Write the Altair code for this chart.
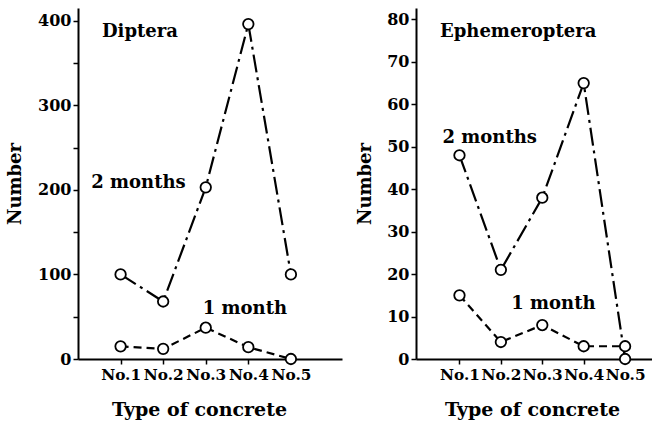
import altair as alt
import pandas as pd

# ---- data ----
types = ["No.1", "No.2", "No.3", "No.4", "No.5"]
positions = [1, 2, 3, 4, 5]
diptera_2m = [100, 68, 203, 396, 100]
diptera_1m = [15, 12, 37, 14, 0]
ephem_2m = [48, 21, 38, 65, 0]
ephem_1m = [15, 4, 8, 3, 3]
series_names = ["2 months", "1 month"]

FONT = "DejaVu Serif"


def panel(title, v2, v1, y_max, y_ticks, label_every, x_domain, width, height,
          lab2, lab1, title_pad, xtitle_x):
    df = pd.DataFrame({
        "type": types * 2,
        "pos": positions * 2,
        "value": v2 + v1,
        "series": [series_names[0]] * 5 + [series_names[1]] * 5,
    })
    x = alt.X("pos:Q",
              scale=alt.Scale(domain=x_domain, nice=False, zero=False),
              axis=alt.Axis(values=positions, labelExpr="'No.' + datum.value",
                            title="Type of concrete", titlePadding=18,
                            titleX=xtitle_x, titleAlign="center",
                            titleFontSize=19, labelFontSize=15.3,
                            labelOverlap=False, labelPadding=3))
    y = alt.Y("value:Q",
              scale=alt.Scale(domain=[0, y_max], nice=False),
              axis=alt.Axis(values=y_ticks,
                            labelExpr=f"datum.value % {label_every} == 0 ? datum.label : ''",
                            title="Number", titlePadding=title_pad, labelPadding=2))
    base = alt.Chart(df)
    line2 = base.transform_filter(alt.datum.series == series_names[0]).mark_line(
        color="black", strokeWidth=2.2, strokeDash=[18, 5, 3, 5]).encode(x=x, y=y)
    line1 = base.transform_filter(alt.datum.series == series_names[1]).mark_line(
        color="black", strokeWidth=2.2, strokeDash=[8, 5]).encode(x=x, y=y)
    pts = base.mark_point(shape="circle", filled=True, fill="white", stroke="black",
                          strokeWidth=1.8, size=110, opacity=1).encode(x=x, y=y)

    # series labels anchored to a data point of each series
    (i2, al2, dx2, dy2) = lab2
    (i1, al1, dx1, dy1) = lab1
    lab_df = pd.DataFrame({
        "pos": [positions[i2], positions[i1]],
        "value": [v2[i2], v1[i1]],
        "label": series_names,
    })
    t2 = alt.Chart(lab_df.iloc[[0]]).mark_text(
        font=FONT, fontWeight="bold", fontSize=18, align=al2, baseline="middle",
        dx=dx2, dy=dy2, color="black").encode(x=x, y=y, text="label:N")
    t1 = alt.Chart(lab_df.iloc[[1]]).mark_text(
        font=FONT, fontWeight="bold", fontSize=18, align=al1, baseline="middle",
        dx=dx1, dy=dy1, color="black").encode(x=x, y=y, text="label:N")

    return alt.layer(line2, line1, pts, t2, t1).properties(
        width=width, height=height,
        title=alt.TitleParams(text=title, anchor="start", frame="group",
                              orient="top", offset=-42, dx=24, baseline="middle",
                              font=FONT, fontSize=18, fontWeight="bold",
                              color="black"))


left = panel("Diptera", diptera_2m, diptera_1m, 415,
             list(range(0, 401, 50)), 100, [0, 6.2], 264, 351,
             (2, "right", -20, -4), (2, "left", -3, -19), 13, 121)
right = panel("Ephemeroptera", ephem_2m, ephem_1m, 82.7,
              list(range(0, 81, 10)), 10, [-0.05, 5.65], 236, 351,
              (0, "left", -17, -17), (2, "left", -31, -21), 12, 116)

chart = alt.hconcat(left, right, spacing=74, bounds="flush").properties(
    padding={"left": 6, "top": 8, "right": 0, "bottom": 0},
    background="white"
).configure_view(strokeWidth=0).configure_axis(
    domainColor="black", domainWidth=2, tickColor="black", tickWidth=1.5,
    tickSize=5, grid=False, labelFont=FONT, labelFontWeight="bold",
    labelFontSize=16, labelColor="black", titleFont=FONT, titleFontWeight="bold",
    titleFontSize=18, titleColor="black"
)

chart.save("out.html", embed_options={"renderer": "svg", "actions": False})
